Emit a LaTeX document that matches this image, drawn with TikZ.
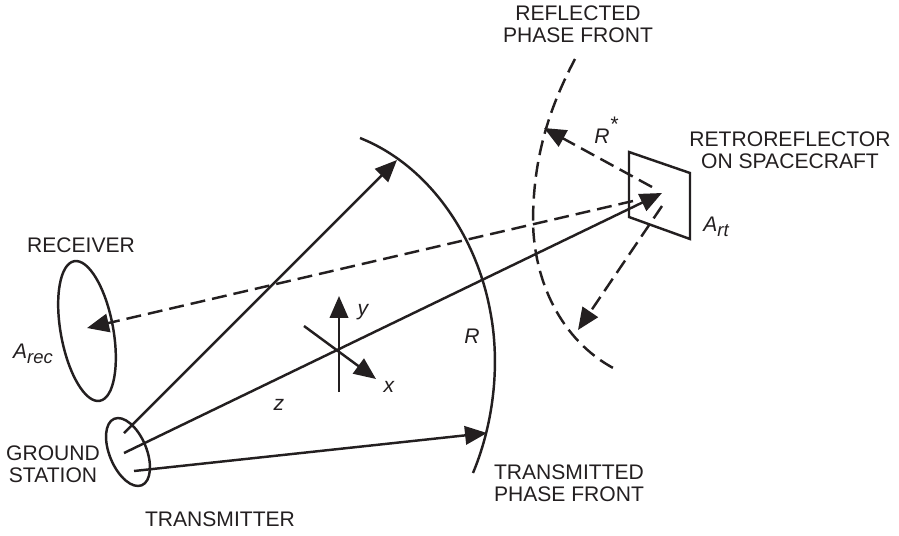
\documentclass[tikz,border=0pt]{standalone}
\usepackage{fontspec}
\setmainfont{Liberation Sans}
\usetikzlibrary{arrows.meta, shapes.geometric}
\definecolor{inkgray}{RGB}{35,31,32}
\newcommand{\lowtag}[1]{\raisebox{-3pt}{\fontsize{10.5}{12}\selectfont #1}}
\tikzset{
  %% ---- antennas ----
  dish/.style   = {ellipse, draw=inkgray, line width=1.4pt, inner sep=0pt},
  %% ---- arrows ----
  beam/.style   = {-{Triangle[length=12.5pt,width=10.5pt]}, line width=1.4pt, color=inkgray},
  echo/.style   = {beam, dash pattern=on 8.5pt off 4pt},
  front/.style  = {line width=1.4pt, color=inkgray},
  %% ---- labels ----
  tag/.style    = {font=\fontsize{12}{12.6}\selectfont, text=inkgray, align=center, inner sep=0pt},
  sym/.style    = {tag, font=\fontsize{12}{12.6}\selectfont\itshape},
}
\begin{document}
\begin{tikzpicture}[x=0.02cm, y=-0.02cm]
\useasboundingbox (0,0) rectangle (899,535);
%% antennas and reflector
\node[dish, minimum width=1.05cm, minimum height=2.84cm, rotate=10.4] (rec) at (87,331) {};
\node[dish, minimum width=0.74cm, minimum height=1.44cm, rotate=22.6] (gnd) at (128,452) {};
\coordinate (retroa) at (629,152);
\coordinate (retrob) at (690,173);
\coordinate (retroc) at (690,239);
\coordinate (retrod) at (629,217);
\draw[front] (retroa) -- (retrob) -- (retroc) -- (retrod) -- cycle;
%% phase fronts
\draw[front] (360,138) .. controls (428,165) and (476,235) .. (490,310) .. controls (500,360) and (495,420) .. (473,473);
\draw[front, dash pattern=on 8.5pt off 4pt] (575,59) .. controls (548,110) and (533,160) .. (533,222) .. controls (534,280) and (560,340) .. (615,369);
%% transmitted beams
\coordinate (txa) at (124,433);
\coordinate (txb) at (124,453);
\coordinate (txc) at (134,471);
\coordinate (hita) at (397,160);
\coordinate (hitb) at (662,193);
\coordinate (hitc) at (487,433);
\draw[beam] (txa) -- (hita);
\draw[beam] (txb) -- (hitb);
\draw[beam] (txc) -- (hitc);
%% reflected beams
\coordinate (rfa) at (652,187);
\coordinate (rfb) at (662,206);
\coordinate (rfc) at (633,201);
\coordinate (backa) at (544,128);
\coordinate (backb) at (578,330);
\coordinate (backc) at (87,328);
\draw[echo] (rfa) -- (backa);
\draw[echo] (rfb) -- (backb);
\draw[echo] (rfc) -- (backc);
%% axes
\coordinate (ytail) at (339,392);
\coordinate (ytip) at (339,296);
\coordinate (xtail) at (304,326);
\coordinate (xtip) at (376,379);
\draw[beam] (ytail) -- (ytip);
\draw[beam] (xtail) -- (xtip);
%% labels
\node[tag] (rpf)   at (578,24)  {REFLECTED\\PHASE FRONT};
\node[tag] (rsc)   at (790,150) {RETROREFLECTOR\\ON SPACECRAFT};
\node[tag] (rcv)   at (81,245)  {RECEIVER};
\node[tag] (gs)    at (53,464)  {GROUND\\STATION};
\node[tag] (tx)    at (220,519) {TRANSMITTER};
\node[tag] (tpf)   at (569,483) {TRANSMITTED\\PHASE FRONT};
\node[sym, anchor=base] (lbrs)  at (606,143) {R\raisebox{6.5pt}{*}};
\node[sym, anchor=base] (lbart) at (716,231) {A\lowtag{rt}};
\node[sym, anchor=base] (lbar)  at (33,358)  {A\lowtag{rec}};
\node[sym] (lby)   at (363,312) {y};
\node[sym] (lbx)   at (389,387) {x};
\node[sym] (lbz)   at (279,405) {z};
\node[sym] (lbr)   at (472,336) {R};
\end{tikzpicture}
\end{document}
